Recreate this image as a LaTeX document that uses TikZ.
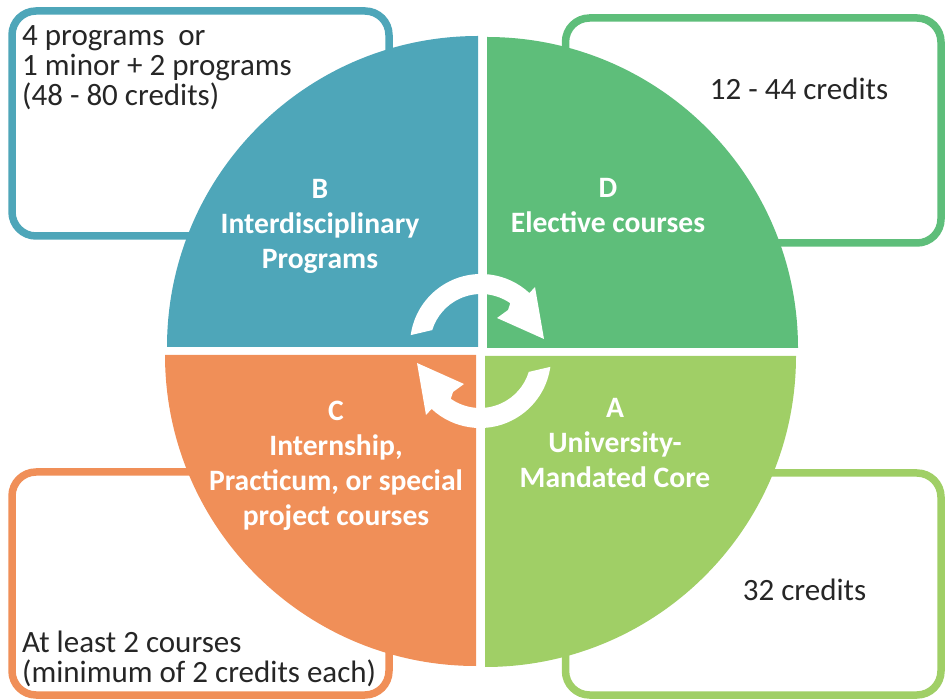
\documentclass[tikz,border=0pt]{standalone}
\usepackage{fontspec}
\setmainfont{Carlito}
\definecolor{qblue}{HTML}{4EA6B9}
\definecolor{qgreen}{HTML}{5EBE7A}
\definecolor{qorange}{HTML}{F08F58}
\definecolor{qlime}{HTML}{A0CF66}
\definecolor{textgray}{HTML}{262626}
\begin{document}
\begin{tikzpicture}[x=1pt,y=1pt]
\useasboundingbox (0,0) rectangle (945,699);
\tikzset{
  infobox/.style={draw, line width=7.5pt, rounded corners=24pt, fill=white, inner sep=0pt},
  infotext/.style={text=textgray, font=\fontsize{31}{30}\selectfont, inner sep=0pt, align=left},
  quadtext/.style={text=white, font=\bfseries\fontsize{29.6}{35}\selectfont, align=center, inner sep=0pt},
  cycarrow/.pic={
    \fill[white] (163:51pt) -- (172:71pt)
      arc[start angle=172, end angle=47, radius=71pt]
      -- (54pt,58pt) -- (63pt,6pt) -- (16pt,27pt) -- (27pt,35pt)
      -- (55:51pt) arc[start angle=55, end angle=163, radius=51pt] -- cycle;
  }
}
% outlined boxes
\node[infobox, draw=qblue,   minimum width=377pt,   minimum height=225pt] (boxB) at (200.5,575.5) {};
\node[infobox, draw=qgreen,  minimum width=375.5pt, minimum height=225pt] (boxD) at (753.25,568.5) {};
\node[infobox, draw=qorange, minimum width=377pt,   minimum height=223pt] (boxC) at (200.5,115.5) {};
\node[infobox, draw=qlime,   minimum width=375.5pt, minimum height=222pt] (boxA) at (753.25,115) {};
% quadrants
\fill[qblue]   (478,352) -- ++(0,311)  arc[start angle=90,  end angle=180, radius=311pt] -- cycle;
\fill[qgreen]  (487,351) -- ++(311,0)  arc[start angle=0,   end angle=90,  radius=311pt] -- cycle;
\fill[qorange] (476,344) -- ++(-311,0) arc[start angle=180, end angle=270, radius=311pt] -- cycle;
\fill[qlime]   (485,343) -- ++(0,-311) arc[start angle=270, end angle=360, radius=311pt] -- cycle;
% cycle arrows
\pic at (481,354) {cycarrow};
\pic[rotate=180] at (480,342) {cycarrow};
% quadrant labels
\node[quadtext] (labB) at (320,472.5) {B\\Interdisciplinary\\Programs};
\node[quadtext] (labD) at (608,493.5) {D\\Elective courses};
\node[quadtext] (labC) at (336,233) {C\\Internship,\\Practicum, or special\\project courses};
\node[quadtext] (labA) at (615,256) {A\\University-\\Mandated Core};
% box texts (base anchor = last line's baseline)
\node[infotext, anchor=base west] (txtB) at (22,593) {4 programs\ \ or\\1 minor + 2 programs\\(48 - 80 credits)};
\node[infotext, anchor=base] (txtD) at (799,599) {12 - 44 credits};
\node[infotext, anchor=base] (txtA) at (804.5,98.5) {32 credits};
\node[infotext, anchor=base west] (txtC) at (22,17) {At least 2 courses\\(minimum of 2 credits each)};
\end{tikzpicture}
\end{document}
